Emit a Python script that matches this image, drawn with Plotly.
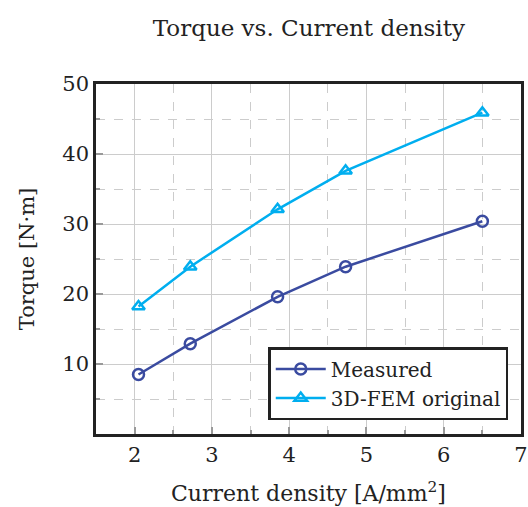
import plotly.graph_objects as go

current_density = [2.05, 2.72, 3.85, 4.73, 6.5]
torque_measured = [8.5, 12.9, 19.6, 23.9, 30.4]
torque_fem = [18.2, 23.9, 32.1, 37.6, 45.9]
x_ticks = [2, 3, 4, 5, 6, 7]
y_ticks = [10, 20, 30, 40, 50]

FONT = "DejaVu Serif"
TXT = "#222222"
fig = go.Figure()
fig.add_trace(go.Scatter(
    x=current_density, y=torque_measured, name="Measured", mode="lines+markers",
    line=dict(color="#3a4ba0", width=2.5),
    marker=dict(symbol="circle-open", size=11, color="#3a4ba0", line=dict(width=2.5)),
))
fig.add_trace(go.Scatter(
    x=current_density, y=torque_fem, name="3D-FEM original", mode="lines+markers",
    line=dict(color="#00aeef", width=2.5),
    marker=dict(symbol="triangle-up-open", size=11, color="#00aeef", line=dict(width=2.5)),
))

axis_common = dict(
    showline=True, linecolor="#222222", linewidth=2.5, mirror=True,
    showgrid=True, gridcolor="#cccccc", gridwidth=1,
    ticks="inside", ticklen=7, tickcolor="#999999", tickwidth=1.5,
    zeroline=False, automargin=False,
)
fig.update_xaxes(
    range=[1.5, 7], tickvals=x_ticks,
    tickfont=dict(family=FONT, size=21, color=TXT),
    minor=dict(dtick=0.5, showgrid=True, gridcolor="#cccccc", griddash="dash",
               ticks="inside", ticklen=4, tickcolor="#999999"),
    title=dict(text="Current density [A/mm<sup>2</sup>]", font=dict(family=FONT, size=22, color=TXT), standoff=20),
    **axis_common,
)
fig.update_yaxes(
    range=[0, 50], tickvals=y_ticks,
    tickfont=dict(family=FONT, size=21, color=TXT),
    minor=dict(dtick=5, showgrid=True, gridcolor="#cccccc", griddash="dash",
               ticks="inside", ticklen=4, tickcolor="#999999"),
    title=dict(text="Torque [N·m]", font=dict(family=FONT, size=21, color=TXT), standoff=22),
    **axis_common,
)
fig.update_layout(
    width=528, height=507,
    margin=dict(l=96, r=7, t=84, b=73),
    paper_bgcolor="white", plot_bgcolor="white",
    title=dict(text="Torque vs. Current density", x=0.585, xanchor="center", y=0.945, yanchor="middle",
               font=dict(family=FONT, size=23, color=TXT)),
    showlegend=True,
    legend=dict(x=0.97, xanchor="right", y=0.04, yanchor="bottom",
                bordercolor="#222222", borderwidth=2.5, bgcolor="white",
                font=dict(family=FONT, size=20, color=TXT),
                itemwidth=50, tracegroupgap=0),
)
fig.write_html("out.html")
